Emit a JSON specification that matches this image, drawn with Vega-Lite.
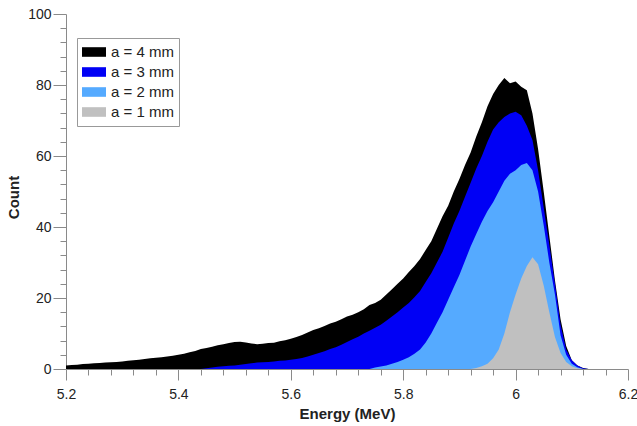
{
  "$schema": "https://vega.github.io/schema/vega-lite/v6.json",
  "width": 562,
  "height": 355,
  "autosize": {"type": "none"},
  "padding": {"left": 66, "top": 14, "right": 9, "bottom": 57},
  "background": "white",
  "config": {
    "view": {"stroke": null},
    "font": "Liberation Sans",
    "axis": {"grid": false, "domainColor": "#8a8a8a", "tickColor": "#8a8a8a", "labelColor": "#222", "labelFontSize": 14, "titleFontSize": 15, "titleFontWeight": "bold", "titleColor": "#222", "labelFont": "Liberation Sans", "titleFont": "Liberation Sans"}
  },
  "datasets": {
    "spectra": [
      {"series": "a = 4 mm", "E": 5.20, "count": 1.0},
      {"series": "a = 4 mm", "E": 5.21, "count": 1.1},
      {"series": "a = 4 mm", "E": 5.22, "count": 1.2},
      {"series": "a = 4 mm", "E": 5.23, "count": 1.4},
      {"series": "a = 4 mm", "E": 5.24, "count": 1.5},
      {"series": "a = 4 mm", "E": 5.25, "count": 1.6},
      {"series": "a = 4 mm", "E": 5.26, "count": 1.7},
      {"series": "a = 4 mm", "E": 5.27, "count": 1.8},
      {"series": "a = 4 mm", "E": 5.28, "count": 1.9},
      {"series": "a = 4 mm", "E": 5.29, "count": 2.0},
      {"series": "a = 4 mm", "E": 5.30, "count": 2.1},
      {"series": "a = 4 mm", "E": 5.31, "count": 2.3},
      {"series": "a = 4 mm", "E": 5.32, "count": 2.5},
      {"series": "a = 4 mm", "E": 5.33, "count": 2.6},
      {"series": "a = 4 mm", "E": 5.34, "count": 2.8},
      {"series": "a = 4 mm", "E": 5.35, "count": 3.0},
      {"series": "a = 4 mm", "E": 5.36, "count": 3.2},
      {"series": "a = 4 mm", "E": 5.37, "count": 3.3},
      {"series": "a = 4 mm", "E": 5.38, "count": 3.5},
      {"series": "a = 4 mm", "E": 5.39, "count": 3.7},
      {"series": "a = 4 mm", "E": 5.40, "count": 4.0},
      {"series": "a = 4 mm", "E": 5.41, "count": 4.3},
      {"series": "a = 4 mm", "E": 5.42, "count": 4.7},
      {"series": "a = 4 mm", "E": 5.43, "count": 5.1},
      {"series": "a = 4 mm", "E": 5.44, "count": 5.6},
      {"series": "a = 4 mm", "E": 5.45, "count": 5.9},
      {"series": "a = 4 mm", "E": 5.46, "count": 6.3},
      {"series": "a = 4 mm", "E": 5.47, "count": 6.7},
      {"series": "a = 4 mm", "E": 5.48, "count": 7.0},
      {"series": "a = 4 mm", "E": 5.49, "count": 7.3},
      {"series": "a = 4 mm", "E": 5.50, "count": 7.6},
      {"series": "a = 4 mm", "E": 5.51, "count": 7.7},
      {"series": "a = 4 mm", "E": 5.52, "count": 7.5},
      {"series": "a = 4 mm", "E": 5.53, "count": 7.2},
      {"series": "a = 4 mm", "E": 5.54, "count": 7.0},
      {"series": "a = 4 mm", "E": 5.55, "count": 7.1},
      {"series": "a = 4 mm", "E": 5.56, "count": 7.3},
      {"series": "a = 4 mm", "E": 5.57, "count": 7.4},
      {"series": "a = 4 mm", "E": 5.58, "count": 7.8},
      {"series": "a = 4 mm", "E": 5.59, "count": 8.1},
      {"series": "a = 4 mm", "E": 5.60, "count": 8.5},
      {"series": "a = 4 mm", "E": 5.61, "count": 9.0},
      {"series": "a = 4 mm", "E": 5.62, "count": 9.6},
      {"series": "a = 4 mm", "E": 5.63, "count": 10.3},
      {"series": "a = 4 mm", "E": 5.64, "count": 11.0},
      {"series": "a = 4 mm", "E": 5.65, "count": 11.5},
      {"series": "a = 4 mm", "E": 5.66, "count": 12.1},
      {"series": "a = 4 mm", "E": 5.67, "count": 12.8},
      {"series": "a = 4 mm", "E": 5.68, "count": 13.3},
      {"series": "a = 4 mm", "E": 5.69, "count": 14.0},
      {"series": "a = 4 mm", "E": 5.70, "count": 14.8},
      {"series": "a = 4 mm", "E": 5.71, "count": 15.3},
      {"series": "a = 4 mm", "E": 5.72, "count": 16.0},
      {"series": "a = 4 mm", "E": 5.73, "count": 16.8},
      {"series": "a = 4 mm", "E": 5.74, "count": 18.0},
      {"series": "a = 4 mm", "E": 5.75, "count": 18.6},
      {"series": "a = 4 mm", "E": 5.76, "count": 19.5},
      {"series": "a = 4 mm", "E": 5.77, "count": 21.0},
      {"series": "a = 4 mm", "E": 5.78, "count": 22.5},
      {"series": "a = 4 mm", "E": 5.79, "count": 24.0},
      {"series": "a = 4 mm", "E": 5.80, "count": 25.5},
      {"series": "a = 4 mm", "E": 5.81, "count": 27.3},
      {"series": "a = 4 mm", "E": 5.82, "count": 29.0},
      {"series": "a = 4 mm", "E": 5.83, "count": 31.0},
      {"series": "a = 4 mm", "E": 5.84, "count": 33.5},
      {"series": "a = 4 mm", "E": 5.85, "count": 36.0},
      {"series": "a = 4 mm", "E": 5.86, "count": 39.5},
      {"series": "a = 4 mm", "E": 5.87, "count": 43.0},
      {"series": "a = 4 mm", "E": 5.88, "count": 46.0},
      {"series": "a = 4 mm", "E": 5.89, "count": 50.0},
      {"series": "a = 4 mm", "E": 5.90, "count": 53.5},
      {"series": "a = 4 mm", "E": 5.91, "count": 57.5},
      {"series": "a = 4 mm", "E": 5.92, "count": 61.0},
      {"series": "a = 4 mm", "E": 5.93, "count": 65.5},
      {"series": "a = 4 mm", "E": 5.94, "count": 69.5},
      {"series": "a = 4 mm", "E": 5.95, "count": 74.0},
      {"series": "a = 4 mm", "E": 5.96, "count": 77.5},
      {"series": "a = 4 mm", "E": 5.97, "count": 80.0},
      {"series": "a = 4 mm", "E": 5.98, "count": 82.0},
      {"series": "a = 4 mm", "E": 5.99, "count": 80.5},
      {"series": "a = 4 mm", "E": 6.00, "count": 81.0},
      {"series": "a = 4 mm", "E": 6.01, "count": 79.5},
      {"series": "a = 4 mm", "E": 6.02, "count": 78.5},
      {"series": "a = 4 mm", "E": 6.03, "count": 72.0},
      {"series": "a = 4 mm", "E": 6.04, "count": 62.0},
      {"series": "a = 4 mm", "E": 6.05, "count": 50.0},
      {"series": "a = 4 mm", "E": 6.06, "count": 37.5},
      {"series": "a = 4 mm", "E": 6.07, "count": 25.0},
      {"series": "a = 4 mm", "E": 6.08, "count": 14.0},
      {"series": "a = 4 mm", "E": 6.09, "count": 6.5},
      {"series": "a = 4 mm", "E": 6.10, "count": 2.5},
      {"series": "a = 4 mm", "E": 6.11, "count": 1.0},
      {"series": "a = 4 mm", "E": 6.12, "count": 0.3},
      {"series": "a = 4 mm", "E": 6.13, "count": 0},
      {"series": "a = 3 mm", "E": 5.44, "count": 0},
      {"series": "a = 3 mm", "E": 5.45, "count": 0.2},
      {"series": "a = 3 mm", "E": 5.46, "count": 0.4},
      {"series": "a = 3 mm", "E": 5.47, "count": 0.6},
      {"series": "a = 3 mm", "E": 5.48, "count": 0.8},
      {"series": "a = 3 mm", "E": 5.49, "count": 0.9},
      {"series": "a = 3 mm", "E": 5.50, "count": 1.0},
      {"series": "a = 3 mm", "E": 5.51, "count": 1.2},
      {"series": "a = 3 mm", "E": 5.52, "count": 1.4},
      {"series": "a = 3 mm", "E": 5.53, "count": 1.6},
      {"series": "a = 3 mm", "E": 5.54, "count": 1.8},
      {"series": "a = 3 mm", "E": 5.55, "count": 1.9},
      {"series": "a = 3 mm", "E": 5.56, "count": 2.0},
      {"series": "a = 3 mm", "E": 5.57, "count": 2.1},
      {"series": "a = 3 mm", "E": 5.58, "count": 2.3},
      {"series": "a = 3 mm", "E": 5.59, "count": 2.4},
      {"series": "a = 3 mm", "E": 5.60, "count": 2.6},
      {"series": "a = 3 mm", "E": 5.61, "count": 2.8},
      {"series": "a = 3 mm", "E": 5.62, "count": 3.1},
      {"series": "a = 3 mm", "E": 5.63, "count": 3.5},
      {"series": "a = 3 mm", "E": 5.64, "count": 4.0},
      {"series": "a = 3 mm", "E": 5.65, "count": 4.5},
      {"series": "a = 3 mm", "E": 5.66, "count": 5.0},
      {"series": "a = 3 mm", "E": 5.67, "count": 5.6},
      {"series": "a = 3 mm", "E": 5.68, "count": 6.1},
      {"series": "a = 3 mm", "E": 5.69, "count": 6.8},
      {"series": "a = 3 mm", "E": 5.70, "count": 7.6},
      {"series": "a = 3 mm", "E": 5.71, "count": 8.4},
      {"series": "a = 3 mm", "E": 5.72, "count": 9.1},
      {"series": "a = 3 mm", "E": 5.73, "count": 10.0},
      {"series": "a = 3 mm", "E": 5.74, "count": 10.8},
      {"series": "a = 3 mm", "E": 5.75, "count": 11.6},
      {"series": "a = 3 mm", "E": 5.76, "count": 12.5},
      {"series": "a = 3 mm", "E": 5.77, "count": 13.6},
      {"series": "a = 3 mm", "E": 5.78, "count": 14.8},
      {"series": "a = 3 mm", "E": 5.79, "count": 16.0},
      {"series": "a = 3 mm", "E": 5.80, "count": 17.3},
      {"series": "a = 3 mm", "E": 5.81, "count": 18.6},
      {"series": "a = 3 mm", "E": 5.82, "count": 20.2},
      {"series": "a = 3 mm", "E": 5.83, "count": 22.0},
      {"series": "a = 3 mm", "E": 5.84, "count": 24.5},
      {"series": "a = 3 mm", "E": 5.85, "count": 27.0},
      {"series": "a = 3 mm", "E": 5.86, "count": 30.0},
      {"series": "a = 3 mm", "E": 5.87, "count": 33.0},
      {"series": "a = 3 mm", "E": 5.88, "count": 37.0},
      {"series": "a = 3 mm", "E": 5.89, "count": 41.0},
      {"series": "a = 3 mm", "E": 5.90, "count": 44.5},
      {"series": "a = 3 mm", "E": 5.91, "count": 48.5},
      {"series": "a = 3 mm", "E": 5.92, "count": 52.5},
      {"series": "a = 3 mm", "E": 5.93, "count": 56.5},
      {"series": "a = 3 mm", "E": 5.94, "count": 60.0},
      {"series": "a = 3 mm", "E": 5.95, "count": 64.0},
      {"series": "a = 3 mm", "E": 5.96, "count": 67.5},
      {"series": "a = 3 mm", "E": 5.97, "count": 69.5},
      {"series": "a = 3 mm", "E": 5.98, "count": 71.0},
      {"series": "a = 3 mm", "E": 5.99, "count": 72.0},
      {"series": "a = 3 mm", "E": 6.00, "count": 72.5},
      {"series": "a = 3 mm", "E": 6.01, "count": 71.5},
      {"series": "a = 3 mm", "E": 6.02, "count": 68.5},
      {"series": "a = 3 mm", "E": 6.03, "count": 64.5},
      {"series": "a = 3 mm", "E": 6.04, "count": 56.0},
      {"series": "a = 3 mm", "E": 6.05, "count": 45.5},
      {"series": "a = 3 mm", "E": 6.06, "count": 35.0},
      {"series": "a = 3 mm", "E": 6.07, "count": 24.0},
      {"series": "a = 3 mm", "E": 6.08, "count": 12.5},
      {"series": "a = 3 mm", "E": 6.09, "count": 5.5},
      {"series": "a = 3 mm", "E": 6.10, "count": 2.5},
      {"series": "a = 3 mm", "E": 6.11, "count": 1.0},
      {"series": "a = 3 mm", "E": 6.12, "count": 0.2},
      {"series": "a = 3 mm", "E": 6.13, "count": 0},
      {"series": "a = 2 mm", "E": 5.74, "count": 0},
      {"series": "a = 2 mm", "E": 5.75, "count": 0.4},
      {"series": "a = 2 mm", "E": 5.76, "count": 0.7},
      {"series": "a = 2 mm", "E": 5.77, "count": 1.0},
      {"series": "a = 2 mm", "E": 5.78, "count": 1.5},
      {"series": "a = 2 mm", "E": 5.79, "count": 2.0},
      {"series": "a = 2 mm", "E": 5.80, "count": 2.6},
      {"series": "a = 2 mm", "E": 5.81, "count": 3.3},
      {"series": "a = 2 mm", "E": 5.82, "count": 4.3},
      {"series": "a = 2 mm", "E": 5.83, "count": 5.5},
      {"series": "a = 2 mm", "E": 5.84, "count": 7.5},
      {"series": "a = 2 mm", "E": 5.85, "count": 10.0},
      {"series": "a = 2 mm", "E": 5.86, "count": 13.0},
      {"series": "a = 2 mm", "E": 5.87, "count": 16.0},
      {"series": "a = 2 mm", "E": 5.88, "count": 19.5},
      {"series": "a = 2 mm", "E": 5.89, "count": 23.0},
      {"series": "a = 2 mm", "E": 5.90, "count": 26.5},
      {"series": "a = 2 mm", "E": 5.91, "count": 30.5},
      {"series": "a = 2 mm", "E": 5.92, "count": 34.5},
      {"series": "a = 2 mm", "E": 5.93, "count": 38.0},
      {"series": "a = 2 mm", "E": 5.94, "count": 41.5},
      {"series": "a = 2 mm", "E": 5.95, "count": 44.5},
      {"series": "a = 2 mm", "E": 5.96, "count": 47.0},
      {"series": "a = 2 mm", "E": 5.97, "count": 50.0},
      {"series": "a = 2 mm", "E": 5.98, "count": 53.0},
      {"series": "a = 2 mm", "E": 5.99, "count": 55.0},
      {"series": "a = 2 mm", "E": 6.00, "count": 56.0},
      {"series": "a = 2 mm", "E": 6.01, "count": 57.5},
      {"series": "a = 2 mm", "E": 6.02, "count": 58.0},
      {"series": "a = 2 mm", "E": 6.03, "count": 56.0},
      {"series": "a = 2 mm", "E": 6.04, "count": 50.0},
      {"series": "a = 2 mm", "E": 6.05, "count": 40.5},
      {"series": "a = 2 mm", "E": 6.06, "count": 30.0},
      {"series": "a = 2 mm", "E": 6.07, "count": 21.0},
      {"series": "a = 2 mm", "E": 6.08, "count": 9.5},
      {"series": "a = 2 mm", "E": 6.09, "count": 4.0},
      {"series": "a = 2 mm", "E": 6.10, "count": 1.5},
      {"series": "a = 2 mm", "E": 6.11, "count": 0.5},
      {"series": "a = 2 mm", "E": 6.12, "count": 0},
      {"series": "a = 1 mm", "E": 5.92, "count": 0},
      {"series": "a = 1 mm", "E": 5.93, "count": 0.3},
      {"series": "a = 1 mm", "E": 5.94, "count": 0.8},
      {"series": "a = 1 mm", "E": 5.95, "count": 1.5},
      {"series": "a = 1 mm", "E": 5.96, "count": 3.0},
      {"series": "a = 1 mm", "E": 5.97, "count": 5.5},
      {"series": "a = 1 mm", "E": 5.98, "count": 10.0},
      {"series": "a = 1 mm", "E": 5.99, "count": 16.0},
      {"series": "a = 1 mm", "E": 6.00, "count": 21.0},
      {"series": "a = 1 mm", "E": 6.01, "count": 25.5},
      {"series": "a = 1 mm", "E": 6.02, "count": 29.0},
      {"series": "a = 1 mm", "E": 6.03, "count": 31.5},
      {"series": "a = 1 mm", "E": 6.04, "count": 29.5},
      {"series": "a = 1 mm", "E": 6.05, "count": 23.5},
      {"series": "a = 1 mm", "E": 6.06, "count": 16.0},
      {"series": "a = 1 mm", "E": 6.07, "count": 9.0},
      {"series": "a = 1 mm", "E": 6.08, "count": 4.5},
      {"series": "a = 1 mm", "E": 6.09, "count": 2.0},
      {"series": "a = 1 mm", "E": 6.10, "count": 0.8},
      {"series": "a = 1 mm", "E": 6.11, "count": 0.2},
      {"series": "a = 1 mm", "E": 6.12, "count": 0}
    ]
  },
  "data": {"name": "spectra"},
  "encoding": {
    "x": {
      "field": "E", "type": "quantitative",
      "scale": {"domain": [5.2, 6.2], "nice": false, "zero": false},
      "axis": {
        "title": "Energy (MeV)",
        "values": [5.2, 5.24, 5.28, 5.32, 5.36, 5.4, 5.44, 5.48, 5.52, 5.56, 5.6, 5.64, 5.68, 5.72, 5.76, 5.8, 5.84, 5.88, 5.92, 5.96, 6.0, 6.04, 6.08, 6.12, 6.16, 6.2],
        "labelExpr": "abs(datum.value * 5 - round(datum.value * 5)) < 0.001 ? format(datum.value, '~g') : ''",
        "tickSize": {"condition": {"test": "abs(datum.value * 5 - round(datum.value * 5)) < 0.001", "value": 11}, "value": 6},
        "labelPadding": 7,
        "labelFlush": false,
        "labelOverlap": false,
        "titleY": 37,
        "titleBaseline": "top"
      }
    },
    "y": {
      "field": "count", "type": "quantitative", "stack": null,
      "scale": {"domain": [0, 100], "nice": false},
      "axis": {
        "title": "Count",
        "values": [0, 4, 8, 12, 16, 20, 24, 28, 32, 36, 40, 44, 48, 52, 56, 60, 64, 68, 72, 76, 80, 84, 88, 92, 96, 100],
        "labelExpr": "datum.value % 20 == 0 ? datum.label : ''",
        "tickSize": {"condition": {"test": "datum.value % 20 == 0", "value": 13}, "value": 6},
        "labelPadding": 2,
        "labelOverlap": false,
        "labelFlush": false,
        "titleX": -45,
        "titleY": 183
      }
    },
    "color": {
      "field": "series", "type": "nominal",
      "scale": {"domain": ["a = 4 mm", "a = 3 mm", "a = 2 mm", "a = 1 mm"], "range": ["#000000", "#0000f5", "#55aaff", "#c0c0c0"]},
      "legend": {
        "title": null,
        "orient": "none",
        "legendX": 11,
        "legendY": 24,
        "fillColor": "white",
        "strokeColor": "#999999",
        "padding": 5,
        "symbolType": "M-1,-0.4L1,-0.4L1,0.4L-1,0.4Z",
        "symbolSize": 576,
        "symbolStrokeWidth": 0,
        "symbolOpacity": 1,
        "labelFontSize": 15,
        "labelColor": "#222",
        "labelFont": "Liberation Sans",
        "labelOffset": 5,
        "clipHeight": 18,
        "rowPadding": 2
      }
    }
  },
  "layer": [
    {"transform": [{"filter": "datum.series == 'a = 4 mm'"}], "mark": {"type": "area", "interpolate": "linear", "opacity": 1}},
    {"transform": [{"filter": "datum.series == 'a = 3 mm'"}], "mark": {"type": "area", "interpolate": "linear", "opacity": 1}},
    {"transform": [{"filter": "datum.series == 'a = 2 mm'"}], "mark": {"type": "area", "interpolate": "linear", "opacity": 1}},
    {"transform": [{"filter": "datum.series == 'a = 1 mm'"}], "mark": {"type": "area", "interpolate": "linear", "opacity": 1}}
  ]
}
